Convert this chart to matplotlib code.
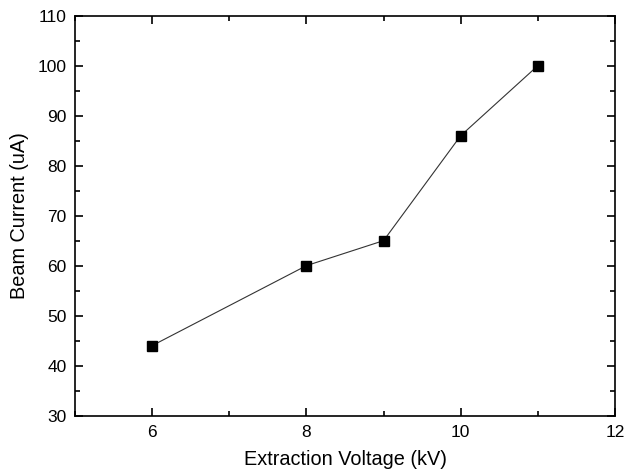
import matplotlib
matplotlib.use("Agg")
import matplotlib.pyplot as plt
from matplotlib.ticker import MultipleLocator

voltage = [6, 8, 9, 10, 11]
current = [44, 60, 65, 86, 100]

plt.rcParams['font.family'] = ['Liberation Sans', 'DejaVu Sans']
fig = plt.figure(figsize=(6.25, 4.75), dpi=100)
ax = fig.add_axes([0.12, 0.125, 0.864, 0.842])
ax.plot(voltage, current, color='#333333', linewidth=0.8, marker='s',
        markersize=7, markerfacecolor='black', markeredgecolor='black')
ax.set_xlim(5, 12)
ax.set_ylim(30, 110)
ax.xaxis.set_major_locator(MultipleLocator(2))
ax.xaxis.set_minor_locator(MultipleLocator(1))
ax.yaxis.set_major_locator(MultipleLocator(10))
ax.yaxis.set_minor_locator(MultipleLocator(5))
ax.tick_params(which='both', direction='in', top=True, right=True, labelsize=12.5, width=1.2)
ax.tick_params(which='major', length=6)
ax.tick_params(which='minor', length=3.5)
ax.tick_params(axis='x', pad=7)
ax.tick_params(axis='y', pad=6)
for s in ax.spines.values():
    s.set_linewidth(1.2)
ax.set_xlabel('Extraction Voltage (kV)', fontsize=14.3, labelpad=7)
ax.set_ylabel('Beam Current (uA)', fontsize=14.3, labelpad=6)
fig.savefig('out.png', dpi=100)
